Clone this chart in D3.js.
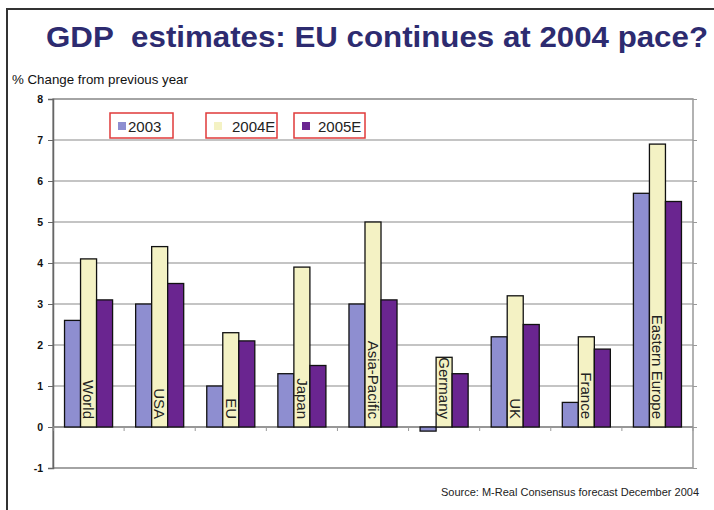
<!DOCTYPE html>
<html>
<head>
<meta charset="utf-8">
<script src="https://cdn.jsdelivr.net/npm/d3@7"></script>
<style>
  body { margin: 0; background: #fff; }
  svg { display: block; font-family: "Liberation Sans", Arial, sans-serif; }
</style>
</head>
<body>
<div id="chart"></div>
<script>
// data
const categories = ["World", "USA", "EU", "Japan", "Asia-Pacific", "Germany", "UK", "France", "Eastern Europe"];
const seriesNames = ["2003", "2004E", "2005E"];
const values2003 = [2.6, 3.0, 1.0, 1.3, 3.0, -0.1, 2.2, 0.6, 5.7];
const values2004E = [4.1, 4.4, 2.3, 3.9, 5.0, 1.7, 3.2, 2.2, 6.9];
const values2005E = [3.1, 3.5, 2.1, 1.5, 3.1, 1.3, 2.5, 1.9, 5.5];
const yTicks = [-1, 0, 1, 2, 3, 4, 5, 6, 7, 8];

const seriesValues = [values2003, values2004E, values2005E];
const colors = ["#8e8ed0", "#f4f2c4", "#6a2590"];

const width = 714, height = 510;
const plot = { left: 53, right: 693, top: 99, bottom: 468 };

const svg = d3.select('#chart')
    .append('svg')
    .attr('width', width)
    .attr('height', height);

svg.append('rect').attr('width', width).attr('height', height).attr('fill', '#fff');

// outer slide frame (top + left)
svg.append('path')
    .attr('d', `M7,${height} L7,9 L${width},9`)
    .attr('fill', 'none')
    .attr('stroke', '#333')
    .attr('stroke-width', 2);

// title
svg.append('text')
    .attr('x', 46)
    .attr('y', 47)
    .attr('textLength', 662)
    .attr('lengthAdjust', 'spacingAndGlyphs')
    .style('font-size', '30px')
    .style('font-weight', 'bold')
    .style('fill', '#2d2b70')
    .text('GDP\u00a0 estimates: EU continues at 2004 pace?');

svg.append('text')
    .attr('x', 12)
    .attr('y', 84)
    .style('font-size', '13.3px')
    .style('fill', '#111')
    .text('% Change from previous year');

const y = d3.scaleLinear()
    .domain([d3.min(yTicks), d3.max(yTicks)])
    .range([plot.bottom, plot.top]);

const x0 = d3.scaleBand()
    .domain(categories)
    .range([plot.left, plot.right])
    .padding(0);

const x1 = d3.scaleBand()
    .domain(seriesNames)
    .range([0, x0.bandwidth()])
    .paddingInner(0)
    .paddingOuter(0.72);

// gridlines
svg.append('g')
    .selectAll('line')
    .data(yTicks)
    .join('line')
    .attr('x1', plot.left)
    .attr('x2', plot.right)
    .attr('y1', d => y(d))
    .attr('y2', d => y(d))
    .attr('stroke', '#8a8a8a')
    .attr('stroke-width', 1.2);

// plot border
svg.append('rect')
    .attr('x', plot.left)
    .attr('y', plot.top)
    .attr('width', plot.right - plot.left)
    .attr('height', plot.bottom - plot.top)
    .attr('fill', 'none')
    .attr('stroke', '#999')
    .attr('stroke-width', 1.5);

// y axis
const yAxis = svg.append('g')
    .attr('transform', `translate(${plot.left},0)`)
    .call(d3.axisLeft(y).tickValues(yTicks).tickSize(5).tickPadding(5).tickFormat(d => String(d)));
yAxis.select('.domain').attr('stroke', '#666').attr('stroke-width', 1.5);
yAxis.selectAll('.tick line').attr('stroke', '#666');
yAxis.selectAll('text')
    .style('font-size', '10.5px')
    .style('font-weight', 'bold')
    .style('fill', '#111');

// right side ticks
svg.append('g')
    .attr('transform', `translate(${plot.right},0)`)
    .call(d3.axisRight(y).tickValues(yTicks).tickSize(4).tickFormat(''))
    .call(g => g.select('.domain').remove())
    .selectAll('.tick line').attr('stroke', '#999');

// x axis at zero, ticks between categories
const boundaries = d3.range(categories.length + 1).map(i => plot.left + i * x0.step());
svg.append('line')
    .attr('x1', plot.left).attr('x2', plot.right)
    .attr('y1', y(0)).attr('y2', y(0))
    .attr('stroke', '#888').attr('stroke-width', 1.5);
svg.append('g')
    .selectAll('line')
    .data(boundaries)
    .join('line')
    .attr('x1', d => d).attr('x2', d => d)
    .attr('y1', y(0)).attr('y2', y(0) + 4)
    .attr('stroke', '#999');

// bars
const barData = [];
categories.forEach((c, i) => {
    seriesNames.forEach((s, j) => {
        barData.push({ cat: c, series: s, value: seriesValues[j][i], idx: j });
    });
});

svg.append('g')
    .selectAll('rect')
    .data(barData)
    .join('rect')
    .attr('x', d => x0(d.cat) + x1(d.series))
    .attr('y', d => y(Math.max(0, d.value)))
    .attr('width', x1.bandwidth())
    .attr('height', d => Math.abs(y(d.value) - y(0)))
    .attr('fill', d => colors[d.idx])
    .attr('stroke', '#111')
    .attr('stroke-width', 1.3);

// category names written vertically on the 2004E bar
svg.append('g')
    .selectAll('text')
    .data(categories)
    .join('text')
    .attr('transform', d => `translate(${x0(d) + x1('2004E') + x1.bandwidth() / 2},${y(0) - 8}) rotate(90)`)
    .attr('text-anchor', 'end')
    .attr('dy', '0.35em')
    .style('font-size', '15px')
    .style('fill', '#222')
    .text(d => d);

// legend: three red boxes
const legendX = [110, 206, 294];
const legendW = [63, 71, 71];
const legendTextX = [18, 26, 24];
const legend = svg.append('g')
    .selectAll('g')
    .data(seriesNames)
    .join('g')
    .attr('transform', (d, i) => `translate(${legendX[i]},113)`);

legend.append('rect')
    .attr('width', (d, i) => legendW[i])
    .attr('height', 25)
    .attr('fill', '#fff')
    .attr('stroke', '#e03a3a')
    .attr('stroke-width', 1.5);

legend.append('rect')
    .attr('x', 8)
    .attr('y', 9)
    .attr('width', 8)
    .attr('height', 8)
    .attr('fill', (d, i) => colors[i]);

legend.append('text')
    .attr('x', (d, i) => legendTextX[i])
    .attr('y', 19)
    .style('font-size', '15px')
    .style('fill', '#222')
    .text(d => d);

// source
svg.append('text')
    .attr('x', 699)
    .attr('y', 496)
    .attr('text-anchor', 'end')
    .style('font-size', '11px')
    .style('fill', '#222')
    .text('Source: M-Real Consensus forecast December 2004');
</script>
</body>
</html>
